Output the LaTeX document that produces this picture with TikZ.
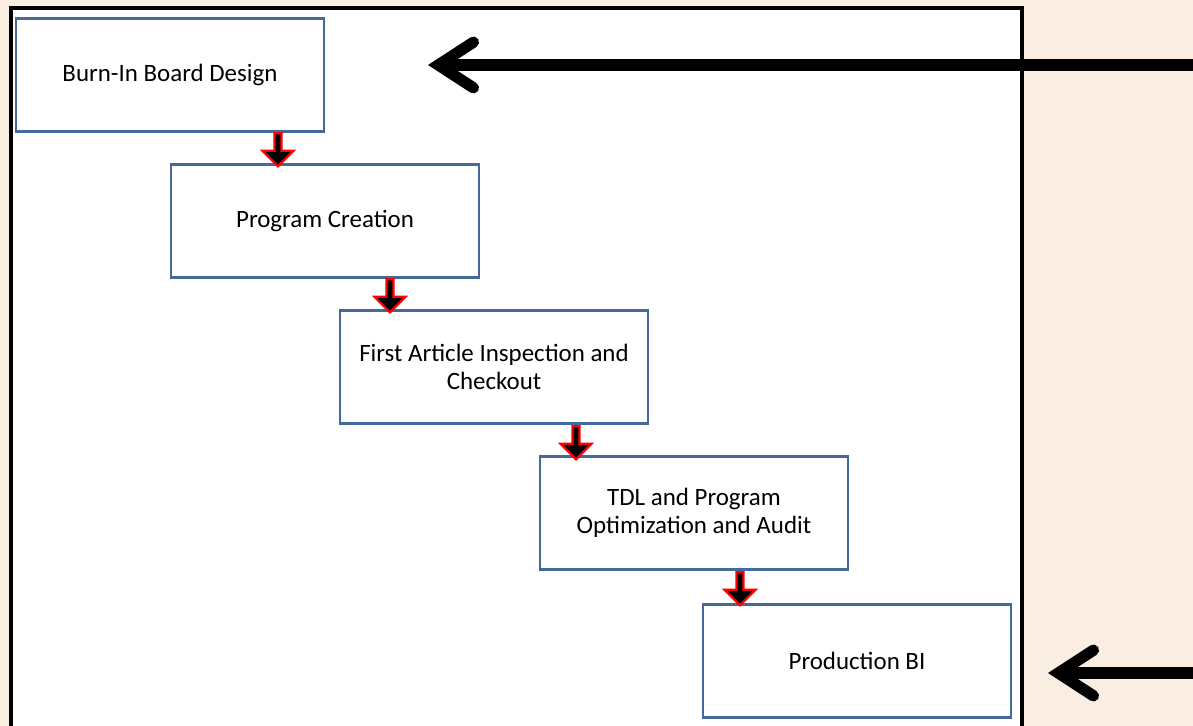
\documentclass[tikz,border=0pt]{standalone}
\usepackage{fontspec}
\setmainfont{Carlito}
\usetikzlibrary{shapes.arrows,arrows.meta}
\definecolor{paper}{HTML}{FAEEE3}
\definecolor{boxblue}{HTML}{45699A}
\begin{document}
\begin{tikzpicture}[x=0.02cm,y=-0.02cm]

      \tikzset{stage/.style={draw=boxblue, line width=1.4pt, fill=white, minimum width=6.16cm, minimum height=2.26cm, align=center, font=\fontsize{14.2}{16.2}\selectfont},
               flowdown/.style={single arrow, draw=red, line width=1.3pt, fill=black, shape border rotate=270, minimum height=0.66cm, minimum width=0.62cm, single arrow head extend=0.08cm, inner sep=0pt},
               feed/.style={line width=6.4pt, -{Straight Barb[length=20pt,width=26pt,line cap=round,line join=miter]}}}
% Canvas
      \useasboundingbox (0,0) rectangle (1193,726);
      \clip (0,0) rectangle (1193,726);
      \fill[paper] (0,0) rectangle (1193,726);
      \draw[line width=2.2pt, fill=white] (11,8) rectangle (1022,760);
% Stages
      	\node[stage] (s1) at (170,75) {Burn-In Board Design};
      	\node[stage] (s2) at (325,221) {Program Creation};
      	\node[stage] (s3) at (494,367) {First Article Inspection and\\Checkout};
      	\node[stage] (s4) at (694,513) {TDL and Program\\Optimization and Audit};
      	\node[stage] (s5) at (857,661) {Production BI};
% Arrows between stages
		\node[flowdown] (a1) at (278,148) {};
		\node[flowdown] (a2) at (390,294) {};
		\node[flowdown] (a3) at (576,441) {};
		\node[flowdown] (a4) at (740,587) {};
% Inputs from outside
		\coordinate (in1) at (1193,65);
		\coordinate (in2) at (1193,673);
		\coordinate (t1) at (428,65);
		\coordinate (t2) at (1048,673);
		\draw[feed] (in1) -- (t1);
		\draw[feed] (in2) -- (t2);

	\end{tikzpicture}
\end{document}
